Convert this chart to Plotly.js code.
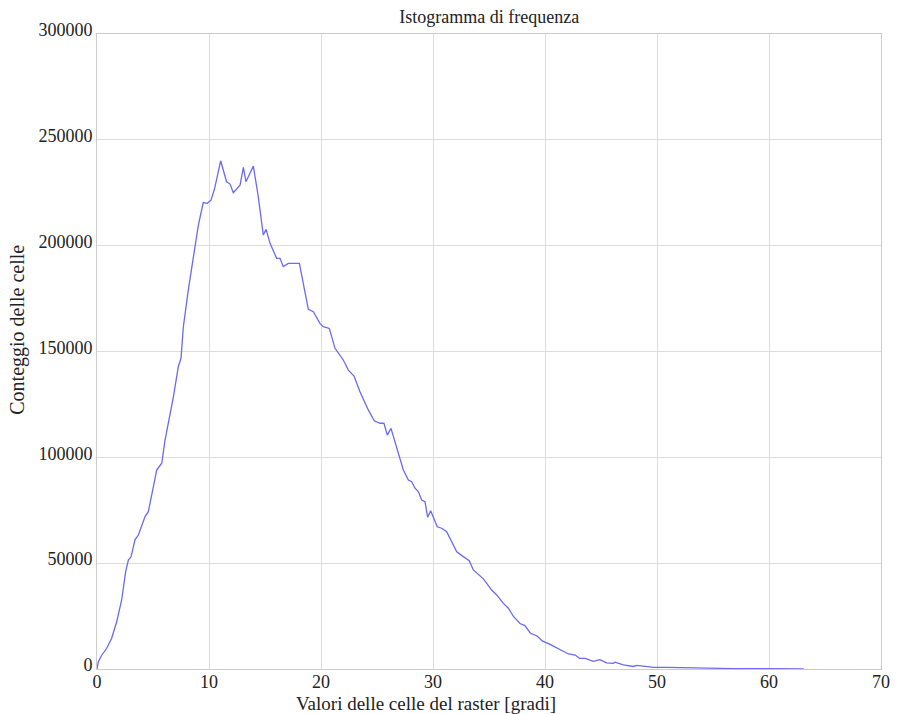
<!DOCTYPE html>
<html>
<head>
<meta charset="utf-8">
<script src="https://cdn.plot.ly/plotly-3.0.1.min.js"></script>
<style>html,body{margin:0;padding:0;background:#fff;}#chart{width:901px;height:714px;}</style>
</head>
<body>
<div id="chart"></div>
<script>
const cellValues = [0,0.12,0.42,0.87,1.31,1.76,2.2,2.56,2.8,3.04,3.39,3.69,4.29,4.58,5.03,5.33,5.78,6.07,6.82,7.26,7.5,7.71,8.15,8.6,9.05,9.49,9.85,10.18,10.5,11.04,11.57,11.88,12.17,12.77,13.07,13.3,13.96,14.4,14.85,15.1,15.45,16.04,16.34,16.63,17.08,18.07,18.57,18.87,19.32,19.9,20.2,20.74,21.25,21.99,22.44,22.95,23.48,24.22,24.76,25.27,25.62,25.92,26.25,26.76,27.35,27.8,28.1,28.39,28.69,28.99,29.29,29.52,29.79,30.38,30.77,31.22,32.12,32.7,33.24,33.6,34.5,35.24,35.69,36.28,36.73,37.2,37.77,38.2,38.7,39.3,39.75,40.45,41.34,42.1,42.7,43.1,43.6,44.3,44.9,45.5,46.1,46.25,47.0,47.9,48.2,49.7,50.9,52.3,53.9,54.5,56.8,59.8,63.1];
const cellCounts = [0,3400,6500,9800,14500,22300,32600,46000,51500,53000,61000,63300,72000,74300,86100,94000,97200,108000,128600,142800,146800,161700,179000,194800,209700,220400,220000,221500,227000,240100,230200,229100,225000,228600,237000,230200,237600,223100,205000,207700,201100,194000,194000,190100,191600,191600,179000,169900,168800,163300,161700,160900,151500,146000,141200,138400,131000,122400,117300,116100,116100,110500,113700,104300,94000,89300,88500,85400,83800,79800,79000,71700,74800,67200,66500,64900,55400,53100,51200,46800,42600,37300,35000,31000,28700,24700,21500,20500,16900,15600,13300,11600,9300,7100,6600,5000,5000,3600,4400,2900,2700,3200,2000,1200,1700,800,800,600,700,500,200,200,0];
const xTicks = [0,10,20,30,40,50,60,70];
const yTicks = [0,50000,100000,150000,200000,250000,300000];
const chartTitle = 'Istogramma di frequenza';
const xTitle = 'Valori delle celle del raster [gradi]';
const yTitle = 'Conteggio delle celle';

const fam = '"Liberation Serif", "DejaVu Serif", serif';
const txt = '#222';

Plotly.newPlot('chart', [{
  x: cellValues, y: cellCounts, type: 'scatter', mode: 'lines',
  line: {color: '#6a6af2', width: 1.3}, hoverinfo: 'x+y'
}], {
  width: 901, height: 714,
  margin: {l: 97, r: 20, t: 34, b: 45},
  paper_bgcolor: '#fff', plot_bgcolor: '#fff',
  font: {family: fam, size: 18, color: txt},
  showlegend: false,
  title: {text: chartTitle, x: 0.543, xanchor: 'center', y: 0.976, yanchor: 'middle', font: {family: fam, size: 18, color: txt}},
  xaxis: {
    range: [0, 70], tickvals: xTicks, ticktext: xTicks.map(String),
    showgrid: true, gridcolor: '#dddddd', gridwidth: 1,
    zeroline: false, showline: true, linecolor: '#cccccc', mirror: true,
    ticks: '', ticklen: 0, ticklabelstandoff: -4,
    tickfont: {family: fam, size: 18, color: txt}
  },
  yaxis: {
    range: [0, 300000], tickvals: yTicks, ticktext: yTicks.map(String),
    showgrid: true, gridcolor: '#dddddd', gridwidth: 1,
    zeroline: false, showline: true, linecolor: '#cccccc', mirror: true,
    ticks: '', ticklen: 0, ticklabelshift: -4,
    tickfont: {family: fam, size: 18, color: txt}
  },
  annotations: [
    {text: xTitle, xref: 'paper', yref: 'paper', x: 0.42, y: -0.055, xanchor: 'center', yanchor: 'middle', showarrow: false, font: {family: fam, size: 19, color: txt}},
    {text: yTitle, xref: 'paper', yref: 'paper', x: -0.101, y: 0.534, xanchor: 'center', yanchor: 'middle', textangle: -90, showarrow: false, font: {family: fam, size: 20, color: txt}}
  ]
}, {displayModeBar: false, staticPlot: true});
</script>
</body>
</html>
